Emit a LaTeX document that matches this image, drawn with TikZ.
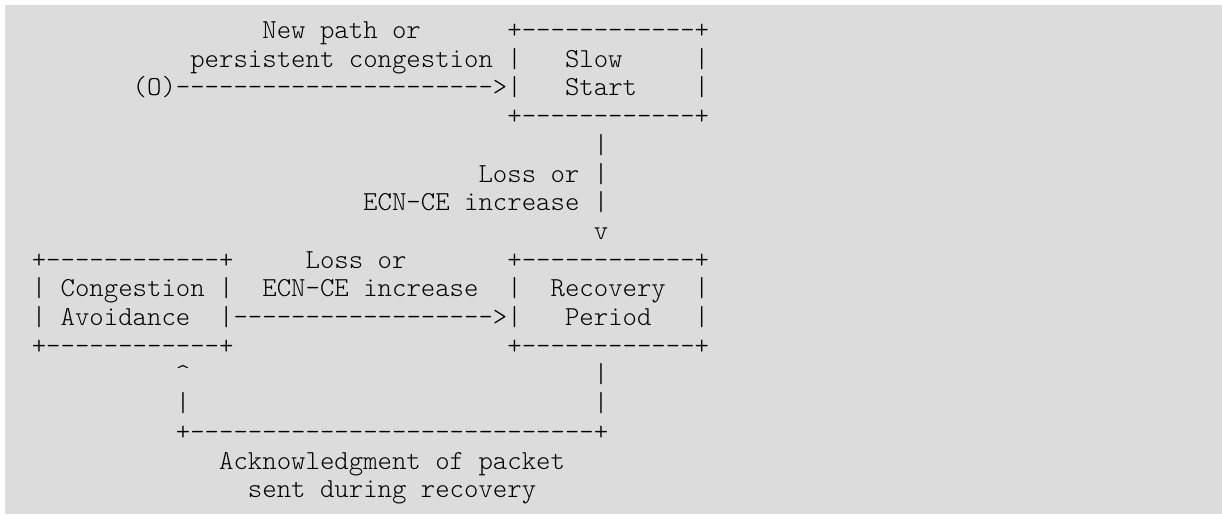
\documentclass[tikz,border=0pt]{standalone}
\usepackage{fontspec}
\setmonofont{lmmonolt10-regular.otf}
\definecolor{bg}{HTML}{DCDCDC}
\tikzset{
  asc/.style={anchor=base west, inner sep=0pt, outer sep=0pt,
    font=\ttfamily\fontsize{27.45}{28.7}\selectfont, text=black}
}
% #1 name, #2 row (1..17), #3 column, #4 text
\newcommand\ascline[4]{\node[asc] (#1) at ({(17.4+#3*14.41)*1pt},{-(38.5+(#2-1)*28.7)*1pt}) {#4};}
\begin{document}
\begin{tikzpicture}
\useasboundingbox (0,0) rectangle (1222pt,-514pt);
\fill[bg] (5pt,-5pt) rectangle (1222pt,-514pt);
\ascline{l1}{1}{17}{New\ path\ or\ \ \ \ \ \ +------------+}
\ascline{l2}{2}{12}{persistent\ congestion\ |\ \ \ Slow\ \ \ \ \ |}
\ascline{l3}{3}{8}{(O)---------------------->|\ \ \ Start\ \ \ \ |}
\ascline{l4}{4}{34}{+------------+}
\ascline{l5}{5}{40}{|}
\ascline{l6}{6}{32}{Loss\ or\ |}
\ascline{l7}{7}{24}{ECN-CE\ increase\ |}
\ascline{l8}{8}{40}{v}
\ascline{l9}{9}{1}{+------------+\ \ \ \ \ Loss\ or\ \ \ \ \ \ \ +------------+}
\ascline{l10}{10}{1}{|\ Congestion\ |\ \ ECN-CE\ increase\ \ |\ \ Recovery\ \ |}
\ascline{l11}{11}{1}{|\ Avoidance\ \ |------------------>|\ \ \ Period\ \ \ |}
\ascline{l12a}{12}{1}{+------------+}
\ascline{l12b}{12}{34}{+------------+}
\ascline{l13a}{13}{11}{\textasciicircum}
\ascline{l13b}{13}{40}{|}
\ascline{l14a}{14}{11}{|}
\ascline{l14b}{14}{40}{|}
\ascline{l15}{15}{11}{+----------------------------+}
\ascline{l16}{16}{14}{Acknowledgment\ of\ packet}
\ascline{l17}{17}{16}{sent\ during\ recovery}
\end{tikzpicture}
\end{document}
